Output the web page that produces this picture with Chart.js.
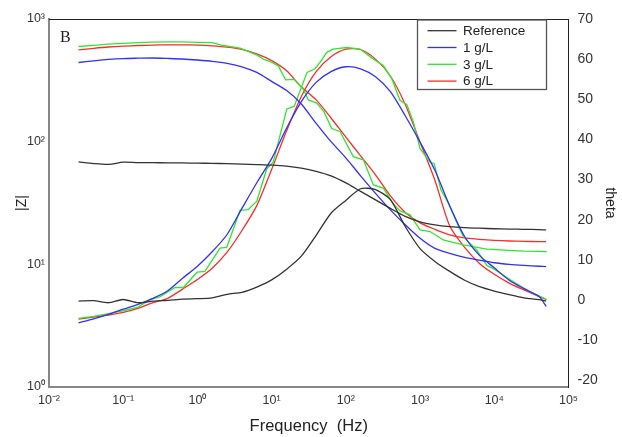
<!DOCTYPE html>
<html>
<head>
<meta charset="utf-8">
<title>Bode plot B</title>
<script src="https://cdn.jsdelivr.net/npm/chart.js@4.4.1/dist/chart.umd.min.js"></script>
<style>
  html, body { margin: 0; padding: 0; background: #fff; }
  #wrap { width: 622px; height: 437px; }
</style>
</head>
<body>
<div id="wrap"><canvas id="bodeChart" width="622" height="437"></canvas></div>
<script>
// Frequencies (Hz) of the sampled points (Reference, 1 g/L, 6 g/L)
const freqHz = [0.025, 0.04, 0.063, 0.1, 0.158, 0.251, 0.398, 0.631, 1, 1.58, 2.51, 3.98, 6.31,
    10, 15.8, 25.1, 39.8, 63.1, 100, 158, 251, 398, 631, 1000, 1585, 2512, 3981, 6310,
    10000, 15850, 25120, 39810, 50000];

// |Z| (left axis)
const refZ = [68.4, 66.3, 65.3, 68.0, 67.5, 67.5, 67.1, 67.1, 66.8, 66.6, 66.1, 65.6, 65.0,
    64.3, 63.1, 60.8, 57.3, 52.6, 46.1, 39.3, 33.5, 28.6, 24.6, 22.2, 21.0, 20.3, 19.9, 19.7,
    19.5, 19.4, 19.3, 19.2, 19.1];
const z1 = [442, 456, 468, 476, 479, 481, 477, 472, 463, 452, 435, 408, 367,
    310, 262, 203, 141, 100, 73.8, 52.6, 37.9, 27.8, 21.0, 16.3, 13.5, 12.3, 11.4, 10.8,
    10.3, 10.0, 9.8, 9.65, 9.58];
const z6 = [561, 577, 591, 601, 608, 612, 616, 616, 612, 604, 590, 566, 520,
    458, 380, 280, 219, 156, 109, 76.6, 53.6, 36.1, 26.5, 21.8, 19.3, 17.4, 16.4, 16.0,
    15.7, 15.5, 15.4, 15.3, 15.3];

// theta (right axis)
const refTheta = [-0.3, -0.2, -0.7, 0.1, -0.7, -0.3, -0.1, 0.2, 0.3, 0.5, 1.4, 1.9, 3.2,
    5.0, 7.6, 10.9, 16.1, 21.6, 24.8, 27.7, 27.5, 25.0, 18.3, 12.8, 9.6, 7.1, 4.9, 3.3,
    2.2, 1.3, 0.5, 0.05, -0.3];
const theta1 = [-5.7, -4.7, -3.6, -2.3, -1.1, 0.4, 2.3, 5.4, 8.4, 12.0, 16.3, 22.8, 29.2,
    35.2, 42.7, 49.4, 54.2, 56.9, 58.1, 57.6, 55.6, 51.9, 45.9, 39.3, 32.3, 23.4, 15.8, 11.1,
    8.0, 4.9, 2.8, 0.9, -1.6];
const theta6 = [-4.8, -4.3, -3.8, -3.1, -2.1, -0.7, 0.4, 2.7, 5.1, 7.9, 11.9, 17.3, 23.5,
    32.5, 42.0, 50.7, 56.9, 60.6, 62.5, 62.4, 60.0, 55.8, 48.7, 39.3, 29.8, 18.4, 13.1, 9.1,
    6.4, 4.2, 2.5, 0.9, 0.1];

// 3 g/L has its own points (the stepped trace)
const freq3Z = [0.025, 0.04, 0.063, 0.1, 0.158, 0.251, 0.398, 0.631, 1, 1.58, 2.23, 3.75,
    6.29, 7.73, 9.51, 12.3, 15.4, 20.1, 26.7, 31.2, 40.5, 50.8, 64.5, 83.5, 126, 172, 235,
    320, 436, 538, 733, 1000, 1365, 2060, 2535, 3835, 7925, 15850, 25120, 51000];
const z3 = [597, 610, 624, 633, 642, 648, 651, 651, 646, 642, 608, 579,
    510, 471, 450, 415, 319, 322, 268, 219, 206, 175, 128, 121, 75.5, 71.1, 44.4,
    41.8, 31.1, 27.3, 25.3, 19.1, 18.5, 15.8, 15.3, 14.4, 13.3, 13.0, 12.8, 12.7];
const freq3Theta = [0.025, 0.04, 0.063, 0.1, 0.158, 0.23, 0.31, 0.499, 0.646, 0.99, 1.26, 2.02,
    2.48, 3.75, 4.81, 6.32, 8.6, 10.5, 16.0, 20.1, 30.0, 38.5, 44.9, 55.3, 67.2, 103, 155,
    235, 320, 416, 538, 662, 813, 1000, 1365, 1545, 1920, 2385, 3125, 3835, 5810, 7925,
    9730, 18100, 30350, 51000];
const theta3 = [-4.6, -4.1, -3.4, -2.7, -1.8, 0.05, 0.75, 3.1, 3.1, 6.9, 7.1, 12.9,
    13.1, 22.3, 22.5, 24.6, 32.7, 34.3, 47.6, 48.2, 56.7, 57.6, 59.2, 61.7, 62.5, 62.9, 62.5,
    60.0, 58.4, 55.1, 49.7, 48.7, 44.3, 37.7, 34.3, 34.0, 27.3, 24.3, 19.3, 15.7, 12.4, 8.6,
    7.8, 4.5, 2.0, 0.1];

const seriesNames = ['Reference', '1 g/L', '3 g/L', '6 g/L'];
const seriesColors = ['#333333', '#3030ff', '#2ee82e', '#ff2a2a'];
const zSeries = [[freqHz, refZ], [freqHz, z1], [freq3Z, z3], [freqHz, z6]];
const thetaSeries = [[freqHz, refTheta], [freqHz, theta1], [freq3Theta, theta3], [freqHz, theta6]];
const seriesTension = [0.25, 0.25, 0, 0.25];

// Axis ticks
const xTicks = [0.01, 0.1, 1, 10, 100, 1000, 10000, 100000];
const xTickLabels = ['10\u207B\u00B2', '10\u207B\u00B9', '10\u2070', '10\u00B9', '10\u00B2', '10\u00B3', '10\u2074', '10\u2075'];
const zTicks = [1, 10, 100, 1000];
const zTickLabels = ['10\u2070', '10\u00B9', '10\u00B2', '10\u00B3'];
const thetaTicks = [-20, -10, 0, 10, 20, 30, 40, 50, 60, 70];

const FONT = '"Liberation Sans", Arial, sans-serif';

function toPoints(freqs, values) {
    return freqs.map((f, i) => ({ x: f, y: values[i] }));
}

const datasets = [];
seriesNames.forEach((name, i) => {
    datasets.push({
        label: name + ' |Z|',
        data: toPoints(zSeries[i][0], zSeries[i][1]),
        yAxisID: 'y',
        borderColor: seriesColors[i],
        borderWidth: 1.3,
        pointRadius: 0,
        tension: seriesTension[i],
        fill: false
    });
    datasets.push({
        label: name + ' theta',
        data: toPoints(thetaSeries[i][0], thetaSeries[i][1]),
        yAxisID: 'y2',
        borderColor: seriesColors[i],
        borderWidth: 1.3,
        pointRadius: 0,
        tension: seriesTension[i],
        fill: false
    });
});

// frame top line, panel letter and boxed legend
const decorPlugin = {
    id: 'decor',
    afterDraw(chart) {
        const { ctx, chartArea } = chart;
        ctx.save();
        ctx.strokeStyle = '#222';
        ctx.lineWidth = 1;
        ctx.beginPath();
        ctx.moveTo(chartArea.left, chartArea.top + 0.5);
        ctx.lineTo(chartArea.right, chartArea.top + 0.5);
        ctx.stroke();

        ctx.fillStyle = '#222';
        ctx.font = '16px "Liberation Serif", "Times New Roman", serif';
        ctx.textBaseline = 'alphabetic';
        ctx.textAlign = 'left';
        ctx.fillText('B', 60, 41.5);

        // legend
        ctx.strokeStyle = '#555';
        ctx.lineWidth = 1.3;
        ctx.strokeRect(417.5, 20, 129, 69.5);
        ctx.font = '13.5px ' + FONT;
        ctx.textBaseline = 'middle';
        seriesNames.forEach((name, i) => {
            const y = 30.7 + i * 16.8;
            ctx.strokeStyle = seriesColors[i];
            ctx.lineWidth = 1.3;
            ctx.beginPath();
            ctx.moveTo(427.5, y);
            ctx.lineTo(456.5, y);
            ctx.stroke();
            ctx.fillStyle = '#222';
            ctx.fillText(name, 463, y + 0.5);
        });
        ctx.restore();
    }
};

new Chart(document.getElementById('bodeChart').getContext('2d'), {
    type: 'line',
    data: { datasets },
    plugins: [decorPlugin],
    options: {
        responsive: false,
        animation: false,
        devicePixelRatio: 1,
        layout: { padding: { top: 19, right: 0, bottom: 0, left: 0 } },
        plugins: {
            legend: { display: false },
            tooltip: { enabled: false }
        },
        scales: {
            x: {
                type: 'logarithmic',
                min: 0.01,
                max: 100000,
                grid: { display: false, drawTicks: false },
                border: { display: true, color: '#888', width: 2 },
                afterBuildTicks: (s) => { s.ticks = xTicks.map(v => ({ value: v })); },
                afterFit: (s) => { s.height = 50; },
                ticks: {
                    autoSkip: false,
                    maxRotation: 0,
                    padding: 6,
                    color: '#333',
                    font: { family: FONT, size: 12.5 },
                    callback: (v, i) => xTickLabels[i]
                },
                title: {
                    display: true,
                    text: 'Frequency  (Hz)',
                    color: '#222',
                    font: { family: FONT, size: 16.5 },
                    padding: { top: 0, bottom: 1 }
                }
            },
            y: {
                type: 'logarithmic',
                position: 'left',
                min: 1,
                max: 1000,
                grid: { display: false, drawTicks: false },
                border: { display: true, color: '#888', width: 2 },
                afterBuildTicks: (s) => { s.ticks = zTicks.map(v => ({ value: v })); },
                afterFit: (s) => { s.width = 49; },
                ticks: {
                    padding: 4,
                    color: '#333',
                    font: { family: FONT, size: 12.5 },
                    callback: (v, i) => zTickLabels[i]
                },
                title: {
                    display: true,
                    text: '|Z|',
                    color: '#222',
                    font: { family: FONT, size: 14 },
                    padding: { top: 14, bottom: 0 }
                }
            },
            y2: {
                type: 'linear',
                position: 'right',
                min: -21.7,
                max: 70,
                grid: { display: false, drawTicks: false },
                border: { display: true, color: '#222', width: 1 },
                afterBuildTicks: (s) => { s.ticks = thetaTicks.map(v => ({ value: v })); },
                afterFit: (s) => { s.width = 53.5; },
                ticks: {
                    padding: 9,
                    color: '#333',
                    font: { family: FONT, size: 14 },
                    callback: (v) => String(v)
                },
                title: {
                    display: true,
                    text: 'theta',
                    color: '#222',
                    font: { family: FONT, size: 14 },
                    padding: { top: 4, bottom: 0 }
                }
            }
        }
    }
});
</script>
</body>
</html>
